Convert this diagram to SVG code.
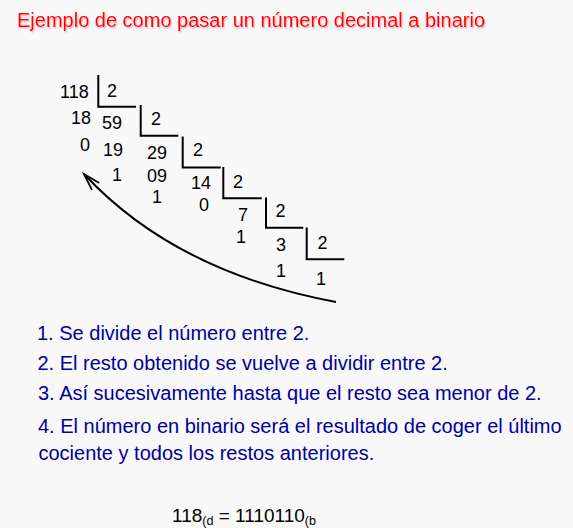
<svg xmlns="http://www.w3.org/2000/svg" width="573" height="528" viewBox="0 0 573 528">
  <style>
    .title { font-family: "Liberation Sans", Arial, sans-serif; font-size: 20px; fill: #ff0000; }
    .num { font-family: "Liberation Sans", Arial, sans-serif; font-size: 18px; fill: #000000; }
    .step { font-family: "Liberation Sans", Arial, sans-serif; font-size: 20px; fill: #000099; }
    .res { font-family: "Liberation Sans", Arial, sans-serif; font-size: 19px; fill: #000000; }
    .sub { font-size: 12.5px; }
    .bracket { fill: none; stroke: #000000; stroke-width: 2; }
    .arrow { fill: none; stroke: #000000; stroke-width: 2; }
  </style>
  <defs>
    <filter id="shadow" x="-5%" y="-30%" width="110%" height="160%">
      <feDropShadow dx="1.2" dy="1.5" stdDeviation="0.4" flood-color="#ff8899" flood-opacity="0.6"/>
    </filter>
    <marker id="head" viewBox="-18 -8 20 16" markerWidth="20" markerHeight="16" refX="0" refY="0" markerUnits="userSpaceOnUse" orient="auto" overflow="visible">
      <path d="M -17,-5 L 0,0 L -17,5" fill="none" stroke="#000000" stroke-width="1.8"/>
    </marker>
  </defs>
  <rect x="0" y="0" width="573" height="528" fill="#f8f8f8"/>

  <g id="title">
    <text class="title" x="17" y="27" filter="url(#shadow)">Ejemplo de como pasar un número decimal a binario</text>
  </g>

  <g id="division">
    <g id="step1">
      <text class="num" x="60" y="98">118</text>
      <text class="num" x="107" y="97">2</text>
      <polyline class="bracket" points="98.3,75 98.3,106.7 136,106.7"/>
      <text class="num" x="71" y="124">18</text>
      <text class="num" x="80" y="151">0</text>
    </g>
    <g id="step2">
      <text class="num" x="102" y="129">59</text>
      <text class="num" x="151" y="125">2</text>
      <polyline class="bracket" points="140.7,105 140.7,135.7 178.3,135.7"/>
      <text class="num" x="103" y="156">19</text>
      <text class="num" x="112" y="181">1</text>
    </g>
    <g id="step3">
      <text class="num" x="147" y="159">29</text>
      <text class="num" x="193" y="156">2</text>
      <polyline class="bracket" points="182.7,136.5 182.7,167.5 220.7,167.5"/>
      <text class="num" x="147" y="182">09</text>
      <text class="num" x="152" y="203">1</text>
    </g>
    <g id="step4">
      <text class="num" x="191" y="189">14</text>
      <text class="num" x="233" y="187.5">2</text>
      <polyline class="bracket" points="223.3,167 223.3,198.3 261.7,198.3"/>
      <text class="num" x="199" y="211">0</text>
    </g>
    <g id="step5">
      <text class="num" x="238" y="220.5">7</text>
      <text class="num" x="275.5" y="217.3">2</text>
      <polyline class="bracket" points="266,197.5 266,227.7 303.3,227.7"/>
      <text class="num" x="236" y="243">1</text>
    </g>
    <g id="step6">
      <text class="num" x="276" y="251">3</text>
      <text class="num" x="317.5" y="249.3">2</text>
      <polyline class="bracket" points="306.7,227.5 306.7,259.3 344.3,259.3"/>
      <text class="num" x="276" y="277">1</text>
      <text class="num" x="316" y="285">1</text>
    </g>
  </g>

  <g id="connectors">
    <path class="arrow" d="M 336,302 Q 175,272 84,174" marker-end="url(#head)"/>
  </g>

  <g id="steps">
    <text class="step" x="37" y="340">1. Se divide el número entre 2.</text>
    <text class="step" x="37.5" y="370">2. El resto obtenido se vuelve a dividir entre 2.</text>
    <text class="step" x="38" y="400">3. Así sucesivamente hasta que el resto sea menor de 2.</text>
    <text class="step" x="38" y="433">4.  El número en binario será el resultado de coger el último</text>
    <text class="step" x="38.5" y="460">cociente y todos los restos anteriores.</text>
  </g>

  <g id="result">
    <text class="res" x="172" y="522">118<tspan class="sub" dy="3">(d</tspan><tspan dy="-3"> = 1110110</tspan><tspan class="sub" dy="3">(b</tspan></text>
  </g>
</svg>
